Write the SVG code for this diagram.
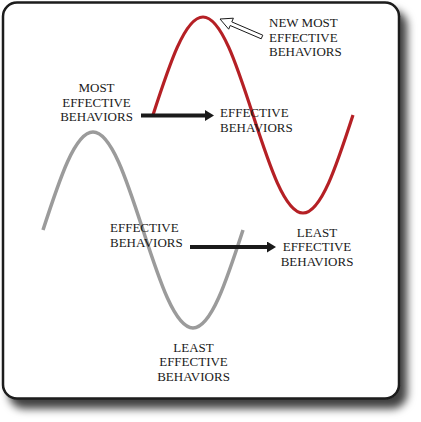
<svg xmlns="http://www.w3.org/2000/svg" width="421" height="422" viewBox="0 0 421 422">
  <defs>
    <filter id="shadow" x="-10%" y="-10%" width="130%" height="130%">
      <feDropShadow dx="7" dy="9" stdDeviation="4.5" flood-color="#000" flood-opacity="0.75"/>
    </filter>
    <marker id="head" markerUnits="userSpaceOnUse" markerWidth="10" markerHeight="12" refX="0" refY="5.5" orient="auto">
      <path d="M0,0 L9,5.5 L0,11 Z" fill="#1a1a1a"/>
    </marker>
  </defs>
  <style>
    .lbl { font-family: "Liberation Serif", "Times New Roman", serif; font-size: 13px; fill: #1a1a1a; }
    .mid { text-anchor: middle; }
    .wave { fill: none; stroke-linecap: butt; }
    .arrow { stroke: #1a1a1a; stroke-width: 4; fill: none; marker-end: url(#head); }
  </style>
  <rect id="frame" x="3" y="2.5" width="396" height="396" rx="14" ry="14" fill="#fff" stroke="#1a1a1a" stroke-width="2.5" filter="url(#shadow)"/>
  <g id="curves">
    <path id="gray-wave" class="wave" stroke="#9b9b9b" stroke-width="3.5" d="M43,230 C59.3,179.8 74.9,132 93,132 C111.1,132 126.7,179.8 143,230 C159.3,280.2 174.9,328 193,328 C211.1,328 226.7,280.2 243,230"/>
    <path id="red-wave" class="wave" stroke="#b52025" stroke-width="3.2" d="M153,115 C169.3,64.8 184.9,17 203,17 C221.1,17 236.7,64.8 253,115 C269.3,165.2 284.9,213 303,213 C321.1,213 336.7,165.2 353,115"/>
  </g>
  <g id="connectors">
    <line class="arrow" x1="141" y1="115.5" x2="205" y2="115.5"/>
    <line class="arrow" x1="190" y1="247" x2="267" y2="247"/>
    <polygon fill="#fff" stroke="#1a1a1a" stroke-width="1" stroke-linejoin="miter" points="220,19 233.4,18.2 231.8,21.9 262.8,35.2 261.2,38.8 230.2,25.5 228.7,29.2"/>
  </g>
  <g id="new-most">
    <text class="lbl" x="269" y="27.3">NEW MOST</text>
    <text class="lbl" x="269" y="41.7">EFFECTIVE</text>
    <text class="lbl" x="269" y="56">BEHAVIORS</text>
  </g>
  <g id="most">
    <text class="lbl mid" x="96.5" y="92.3">MOST</text>
    <text class="lbl mid" x="96.5" y="106.7">EFFECTIVE</text>
    <text class="lbl mid" x="96.5" y="121">BEHAVIORS</text>
  </g>
  <g id="effective-top">
    <text class="lbl" x="220" y="117.3">EFFECTIVE</text>
    <text class="lbl" x="220" y="131.7">BEHAVIORS</text>
  </g>
  <g id="effective-bottom">
    <text class="lbl" x="110" y="232.3">EFFECTIVE</text>
    <text class="lbl" x="110" y="246.7">BEHAVIORS</text>
  </g>
  <g id="least-right">
    <text class="lbl mid" x="317" y="236.7">LEAST</text>
    <text class="lbl mid" x="317" y="251">EFFECTIVE</text>
    <text class="lbl mid" x="317" y="265.5">BEHAVIORS</text>
  </g>
  <g id="least-bottom">
    <text class="lbl mid" x="193.5" y="351.7">LEAST</text>
    <text class="lbl mid" x="193.5" y="366">EFFECTIVE</text>
    <text class="lbl mid" x="193.5" y="380.5">BEHAVIORS</text>
  </g>
</svg>
